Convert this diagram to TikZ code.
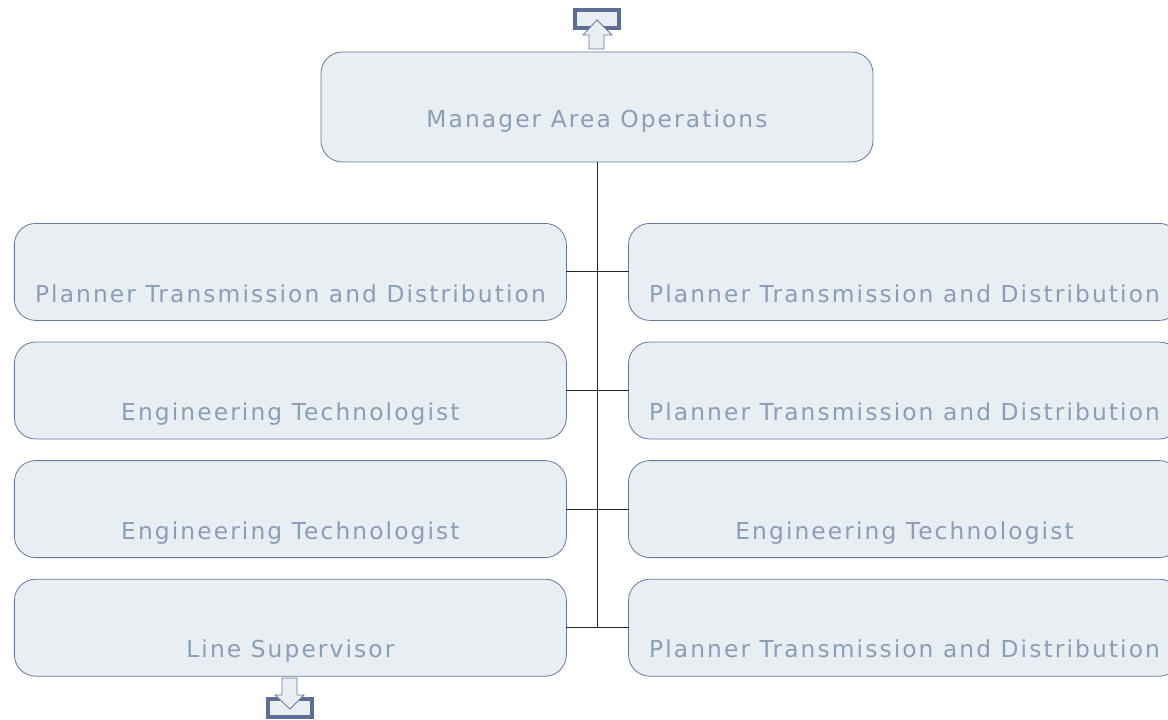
\documentclass[tikz,border=0pt]{standalone}
\usepackage{fontspec}
\setmainfont[LetterSpace=9]{DejaVu Sans}
\usepackage{tikz}
\usetikzlibrary{matrix}

\definecolor{boxfill}{RGB}{233,238,242}
\definecolor{boxline}{RGB}{100,120,160}
\definecolor{boxtext}{RGB}{138,158,184}
\definecolor{markline}{RGB}{90,110,150}

\tikzset{
    post/.style={draw=boxline, fill=boxfill, rounded corners=16pt, line width=0.6pt,
        text=boxtext, font=\fontsize{17.5}{20}\selectfont, inner sep=0pt, outer sep=0pt,
        minimum width=414pt, text height=59pt, text depth=13.75pt, anchor=center},
    link/.style={draw=black!85, line width=0.75pt},
    marker/.style={draw=markline, fill=boxfill, line width=3pt, minimum width=33pt,
        minimum height=14pt, inner sep=0pt},
    pointer/.style={draw=boxline, fill=boxfill, line width=0.6pt, line join=miter}
}

\begin{document}
\begin{tikzpicture}[x=0.75pt, y=-0.75pt]

    \useasboundingbox (0,0) rectangle (1168,720);

    \node[post, minimum width=414pt, text height=57pt, text depth=25.5pt] (head) at (597,107)
    {Manager Area Operations};

    \matrix[matrix of nodes, nodes={post}, column sep=46pt, row sep=15.6pt,
        inner sep=0pt, outer sep=0pt, anchor=north west] (mat) at (14,223)
    {
        Planner Transmission and Distribution & Planner Transmission and Distribution \\
        Engineering Technologist & Planner Transmission and Distribution \\
        Engineering Technologist & Engineering Technologist \\
        Line Supervisor & Planner Transmission and Distribution \\
    };

    \draw[link] (head.south) -- (head.south |- mat-4-1.east);

    \draw[link] (mat-1-1.east) -- (mat-1-2.west);
    \draw[link] (mat-2-1.east) -- (mat-2-2.west);
    \draw[link] (mat-3-1.east) -- (mat-3-2.west);
    \draw[link] (mat-4-1.east) -- (mat-4-2.west);

    \node[marker] (upmark) at (597,19) {};
    \draw[pointer] (589,49) -- (589,35) -- (583,35) -- (597,20) -- (612,35) -- (604,35) -- (604,49) -- cycle;

    \node[marker] (downmark) at (290,708) {};
    \draw[pointer] (282,678) -- (297,678) -- (297,695) -- (304,695) -- (290,709) -- (275,695) -- (282,695) -- cycle;

\end{tikzpicture}
\end{document}
